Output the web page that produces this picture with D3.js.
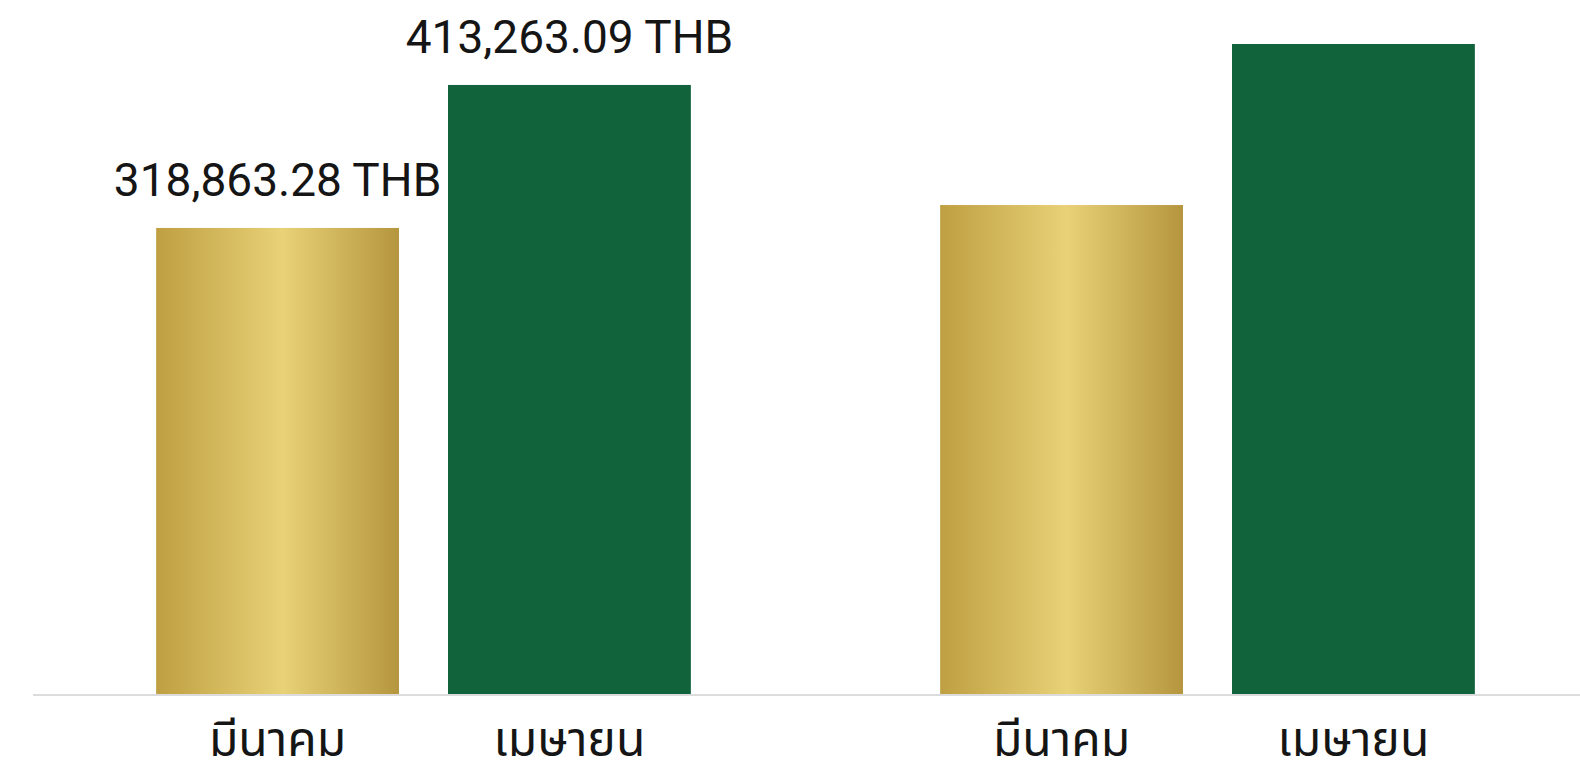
<!DOCTYPE html>
<html lang="th">
<head>
<meta charset="UTF-8">
<title>มีนาคม / เมษายน</title>
<style>
  html, body { margin: 0; padding: 0; background: #fff; overflow: hidden; }
  text { font-family: Roboto, "Noto Sans Thai", "Noto Sans", sans-serif; }
</style>
</head>
<body>
<div id="chart"></div>
<script src="https://d3js.org/d3.v7.min.js"></script>
<script>
// data
const groups = ["g1", "g2"];
const months = ["มีนาคม", "เมษายน"];
const marchValues = [318863.28, 334000];
const aprilValues = [413263.09, 440300];
const valueLabels = [["318,863.28 THB", "413,263.09 THB"], ["", ""]];

const W = 1580, H = 761;
const baseY = 694;

const svg = d3.select("#chart").append("svg")
    .attr("width", W).attr("height", H);

const defs = svg.append("defs");
const gold = defs.append("linearGradient").attr("id", "gold")
    .attr("x1", "0%").attr("x2", "100%").attr("y1", "0%").attr("y2", "0%");
gold.append("stop").attr("offset", "0%").attr("stop-color", "#bf9f42");
gold.append("stop").attr("offset", "52%").attr("stop-color", "#e8d177");
gold.append("stop").attr("offset", "100%").attr("stop-color", "#b5963e");

const x0 = d3.scaleBand().domain(groups).range([31.5, 1599.5])
    .paddingInner(0.318).paddingOuter(0.159);
const x1 = d3.scaleBand().domain(months).range([0, x0.bandwidth()])
    .paddingInner(0.168).paddingOuter(0);
const y = d3.scaleLinear().domain([11200, 440300]).range([baseY, 44]);

const rows = groups.map((g, i) => ({
    group: g,
    bars: [
        { month: months[0], value: marchValues[i], label: valueLabels[i][0], fill: "url(#gold)" },
        { month: months[1], value: aprilValues[i], label: valueLabels[i][1], fill: "#10633a" }
    ]
}));

const gs = svg.selectAll("g.grp").data(rows).join("g")
    .attr("class", "grp")
    .attr("transform", d => `translate(${x0(d.group)},0)`);

gs.selectAll("rect").data(d => d.bars).join("rect")
    .attr("x", d => x1(d.month))
    .attr("y", d => y(d.value))
    .attr("width", x1.bandwidth())
    .attr("height", d => baseY - y(d.value))
    .attr("fill", d => d.fill);

gs.selectAll("text.val").data(d => d.bars.filter(b => b.label)).join("text")
    .attr("class", "val")
    .attr("x", d => x1(d.month) + x1.bandwidth() / 2)
    .attr("y", d => y(d.value) - 32)
    .attr("text-anchor", "middle")
    .attr("font-size", 46)
    .attr("fill", "#151515")
    .text(d => d.label);

// baseline
svg.append("line")
    .attr("x1", 33).attr("x2", W)
    .attr("y1", baseY + 1).attr("y2", baseY + 1)
    .attr("stroke", "#dcdcdc").attr("stroke-width", 2);

// month labels
gs.selectAll("text.cat").data(d => d.bars).join("text")
    .attr("class", "cat")
    .attr("x", d => x1(d.month) + x1.bandwidth() / 2)
    .attr("y", 756)
    .attr("text-anchor", "middle")
    .attr("font-size", 48)
    .attr("fill", "#151515")
    .text(d => d.month);
</script>
</body>
</html>
